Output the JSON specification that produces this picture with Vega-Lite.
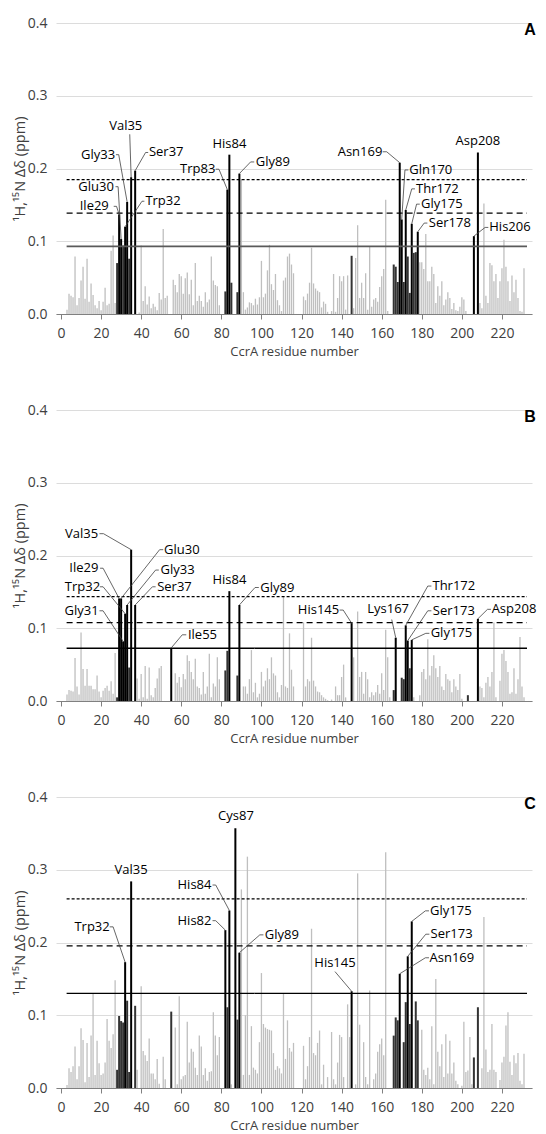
{
"$schema":"https://vega.github.io/schema/vega-lite/v6.json",
"padding":{"top":16,"left":12,"right":0,"bottom":0},
"background":"white",
"bounds":"flush",
"spacing":96,
"config":{"font":"Open Sans","view":{"stroke":null},"axis":{"labelFont":"Open Sans","titleFont":"Open Sans"}},
"datasets":{
"A":[{"r":3,"v":0.006,"c":"n"},{"r":4,"v":0.028,"c":"n"},{"r":5,"v":0.025,"c":"n"},{"r":6,"v":0.023,"c":"n"},{"r":7,"v":0.079,"c":"n"},{"r":8,"v":0.012,"c":"n"},{"r":9,"v":0.022,"c":"n"},{"r":10,"v":0.046,"c":"n"},{"r":11,"v":0.065,"c":"n"},{"r":12,"v":0.021,"c":"n"},{"r":13,"v":0.076,"c":"n"},{"r":14,"v":0.017,"c":"n"},{"r":15,"v":0.042,"c":"n"},{"r":16,"v":0.026,"c":"n"},{"r":17,"v":0.012,"c":"n"},{"r":18,"v":0.008,"c":"n"},{"r":19,"v":0.018,"c":"n"},{"r":20,"v":0.005,"c":"n"},{"r":21,"v":0.017,"c":"n"},{"r":22,"v":0.036,"c":"n"},{"r":23,"v":0.012,"c":"n"},{"r":24,"v":0.014,"c":"n"},{"r":25,"v":0.087,"c":"n"},{"r":26,"v":0.108,"c":"n"},{"r":27,"v":0.015,"c":"n"},{"r":28,"v":0.070,"c":"d"},{"r":29,"v":0.137,"c":"k"},{"r":30,"v":0.103,"c":"k"},{"r":31,"v":0.094,"c":"d"},{"r":32,"v":0.120,"c":"k"},{"r":33,"v":0.154,"c":"k"},{"r":34,"v":0.076,"c":"d"},{"r":35,"v":0.188,"c":"k"},{"r":37,"v":0.197,"c":"k"},{"r":39,"v":0.002,"c":"n"},{"r":40,"v":0.094,"c":"n"},{"r":41,"v":0.018,"c":"n"},{"r":42,"v":0.038,"c":"n"},{"r":43,"v":0.013,"c":"n"},{"r":44,"v":0.024,"c":"n"},{"r":45,"v":0.008,"c":"n"},{"r":46,"v":0.014,"c":"n"},{"r":47,"v":0.010,"c":"n"},{"r":48,"v":0.005,"c":"n"},{"r":49,"v":0.029,"c":"n"},{"r":50,"v":0.020,"c":"n"},{"r":51,"v":0.117,"c":"n"},{"r":52,"v":0.022,"c":"n"},{"r":53,"v":0.025,"c":"n"},{"r":56,"v":0.047,"c":"n"},{"r":57,"v":0.040,"c":"n"},{"r":58,"v":0.030,"c":"n"},{"r":59,"v":0.055,"c":"n"},{"r":60,"v":0.052,"c":"n"},{"r":61,"v":0.028,"c":"n"},{"r":62,"v":0.049,"c":"n"},{"r":63,"v":0.057,"c":"n"},{"r":64,"v":0.027,"c":"n"},{"r":65,"v":0.047,"c":"n"},{"r":66,"v":0.012,"c":"n"},{"r":67,"v":0.070,"c":"n"},{"r":68,"v":0.018,"c":"n"},{"r":69,"v":0.025,"c":"n"},{"r":70,"v":0.018,"c":"n"},{"r":71,"v":0.010,"c":"n"},{"r":72,"v":0.030,"c":"n"},{"r":73,"v":0.016,"c":"n"},{"r":74,"v":0.020,"c":"n"},{"r":75,"v":0.079,"c":"n"},{"r":76,"v":0.046,"c":"n"},{"r":77,"v":0.040,"c":"n"},{"r":78,"v":0.038,"c":"n"},{"r":79,"v":0.012,"c":"n"},{"r":82,"v":0.031,"c":"d"},{"r":83,"v":0.171,"c":"k"},{"r":84,"v":0.219,"c":"k"},{"r":85,"v":0.043,"c":"d"},{"r":88,"v":0.030,"c":"d"},{"r":89,"v":0.193,"c":"k"},{"r":90,"v":0.185,"c":"n"},{"r":91,"v":0.030,"c":"n"},{"r":92,"v":0.006,"c":"n"},{"r":93,"v":0.009,"c":"n"},{"r":94,"v":0.016,"c":"n"},{"r":95,"v":0.015,"c":"n"},{"r":96,"v":0.012,"c":"n"},{"r":97,"v":0.021,"c":"n"},{"r":98,"v":0.013,"c":"n"},{"r":99,"v":0.023,"c":"n"},{"r":100,"v":0.073,"c":"n"},{"r":101,"v":0.023,"c":"n"},{"r":102,"v":0.028,"c":"n"},{"r":103,"v":0.060,"c":"n"},{"r":104,"v":0.095,"c":"n"},{"r":105,"v":0.041,"c":"n"},{"r":106,"v":0.033,"c":"n"},{"r":107,"v":0.055,"c":"n"},{"r":108,"v":0.019,"c":"n"},{"r":109,"v":0.012,"c":"n"},{"r":110,"v":0.004,"c":"n"},{"r":111,"v":0.046,"c":"n"},{"r":112,"v":0.050,"c":"n"},{"r":113,"v":0.079,"c":"n"},{"r":114,"v":0.083,"c":"n"},{"r":115,"v":0.068,"c":"n"},{"r":116,"v":0.056,"c":"n"},{"r":121,"v":0.024,"c":"n"},{"r":122,"v":0.019,"c":"n"},{"r":123,"v":0.028,"c":"n"},{"r":124,"v":0.043,"c":"n"},{"r":125,"v":0.091,"c":"n"},{"r":126,"v":0.042,"c":"n"},{"r":127,"v":0.035,"c":"n"},{"r":128,"v":0.032,"c":"n"},{"r":129,"v":0.030,"c":"n"},{"r":130,"v":0.009,"c":"n"},{"r":131,"v":0.017,"c":"n"},{"r":132,"v":0.014,"c":"n"},{"r":133,"v":0.003,"c":"n"},{"r":135,"v":0.004,"c":"n"},{"r":136,"v":0.055,"c":"n"},{"r":137,"v":0.003,"c":"n"},{"r":138,"v":0.022,"c":"n"},{"r":139,"v":0.052,"c":"n"},{"r":140,"v":0.045,"c":"n"},{"r":141,"v":0.052,"c":"n"},{"r":142,"v":0.006,"c":"n"},{"r":143,"v":0.053,"c":"n"},{"r":145,"v":0.080,"c":"d"},{"r":146,"v":0.008,"c":"n"},{"r":147,"v":0.077,"c":"n"},{"r":148,"v":0.122,"c":"n"},{"r":149,"v":0.022,"c":"n"},{"r":150,"v":0.043,"c":"n"},{"r":151,"v":0.022,"c":"n"},{"r":152,"v":0.056,"c":"n"},{"r":153,"v":0.006,"c":"n"},{"r":154,"v":0.092,"c":"n"},{"r":155,"v":0.010,"c":"n"},{"r":156,"v":0.020,"c":"n"},{"r":157,"v":0.022,"c":"n"},{"r":158,"v":0.017,"c":"n"},{"r":159,"v":0.037,"c":"n"},{"r":160,"v":0.052,"c":"n"},{"r":161,"v":0.062,"c":"n"},{"r":162,"v":0.157,"c":"n"},{"r":163,"v":0.004,"c":"n"},{"r":166,"v":0.068,"c":"d"},{"r":167,"v":0.065,"c":"d"},{"r":168,"v":0.044,"c":"d"},{"r":169,"v":0.208,"c":"k"},{"r":170,"v":0.130,"c":"k"},{"r":171,"v":0.044,"c":"d"},{"r":172,"v":0.143,"c":"k"},{"r":173,"v":0.079,"c":"d"},{"r":174,"v":0.029,"c":"d"},{"r":175,"v":0.124,"c":"k"},{"r":176,"v":0.084,"c":"d"},{"r":177,"v":0.085,"c":"d"},{"r":178,"v":0.113,"c":"k"},{"r":179,"v":0.071,"c":"n"},{"r":180,"v":0.071,"c":"n"},{"r":181,"v":0.062,"c":"n"},{"r":182,"v":0.110,"c":"n"},{"r":183,"v":0.045,"c":"n"},{"r":184,"v":0.045,"c":"n"},{"r":185,"v":0.065,"c":"n"},{"r":186,"v":0.055,"c":"n"},{"r":187,"v":0.015,"c":"n"},{"r":188,"v":0.038,"c":"n"},{"r":189,"v":0.025,"c":"n"},{"r":190,"v":0.045,"c":"n"},{"r":191,"v":0.012,"c":"n"},{"r":192,"v":0.020,"c":"n"},{"r":193,"v":0.030,"c":"n"},{"r":194,"v":0.022,"c":"n"},{"r":195,"v":0.007,"c":"n"},{"r":196,"v":0.015,"c":"n"},{"r":197,"v":0.005,"c":"n"},{"r":198,"v":0.004,"c":"n"},{"r":199,"v":0.010,"c":"n"},{"r":200,"v":0.023,"c":"n"},{"r":201,"v":0.020,"c":"n"},{"r":202,"v":0.004,"c":"n"},{"r":206,"v":0.107,"c":"k"},{"r":208,"v":0.222,"c":"k"},{"r":209,"v":0.015,"c":"n"},{"r":210,"v":0.008,"c":"n"},{"r":211,"v":0.152,"c":"n"},{"r":212,"v":0.025,"c":"n"},{"r":213,"v":0.015,"c":"n"},{"r":214,"v":0.070,"c":"n"},{"r":215,"v":0.067,"c":"n"},{"r":216,"v":0.045,"c":"n"},{"r":217,"v":0.055,"c":"n"},{"r":218,"v":0.022,"c":"n"},{"r":219,"v":0.045,"c":"n"},{"r":220,"v":0.063,"c":"n"},{"r":221,"v":0.102,"c":"n"},{"r":222,"v":0.065,"c":"n"},{"r":223,"v":0.045,"c":"n"},{"r":224,"v":0.018,"c":"n"},{"r":225,"v":0.053,"c":"n"},{"r":226,"v":0.030,"c":"n"},{"r":227,"v":0.047,"c":"n"},{"r":228,"v":0.022,"c":"n"},{"r":229,"v":0.004,"c":"n"},{"r":230,"v":0.003,"c":"n"},{"r":231,"v":0.063,"c":"n"}],
"B":[{"r":3,"v":0.009,"c":"n"},{"r":4,"v":0.015,"c":"n"},{"r":5,"v":0.014,"c":"n"},{"r":6,"v":0.013,"c":"n"},{"r":7,"v":0.059,"c":"n"},{"r":8,"v":0.020,"c":"n"},{"r":9,"v":0.009,"c":"n"},{"r":10,"v":0.094,"c":"n"},{"r":11,"v":0.044,"c":"n"},{"r":12,"v":0.021,"c":"n"},{"r":13,"v":0.044,"c":"n"},{"r":14,"v":0.021,"c":"n"},{"r":15,"v":0.021,"c":"n"},{"r":16,"v":0.016,"c":"n"},{"r":17,"v":0.016,"c":"n"},{"r":18,"v":0.035,"c":"n"},{"r":19,"v":0.013,"c":"n"},{"r":20,"v":0.005,"c":"n"},{"r":21,"v":0.014,"c":"n"},{"r":22,"v":0.018,"c":"n"},{"r":23,"v":0.021,"c":"n"},{"r":24,"v":0.014,"c":"n"},{"r":25,"v":0.027,"c":"n"},{"r":26,"v":0.010,"c":"n"},{"r":27,"v":0.066,"c":"n"},{"r":28,"v":0.005,"c":"d"},{"r":29,"v":0.141,"c":"k"},{"r":30,"v":0.141,"c":"k"},{"r":31,"v":0.082,"c":"k"},{"r":32,"v":0.120,"c":"k"},{"r":33,"v":0.132,"c":"k"},{"r":34,"v":0.046,"c":"d"},{"r":35,"v":0.208,"c":"k"},{"r":37,"v":0.132,"c":"k"},{"r":38,"v":0.031,"c":"n"},{"r":39,"v":0.003,"c":"n"},{"r":40,"v":0.037,"c":"n"},{"r":41,"v":0.005,"c":"n"},{"r":42,"v":0.048,"c":"n"},{"r":43,"v":0.003,"c":"n"},{"r":44,"v":0.046,"c":"n"},{"r":45,"v":0.008,"c":"n"},{"r":46,"v":0.005,"c":"n"},{"r":47,"v":0.018,"c":"n"},{"r":48,"v":0.031,"c":"n"},{"r":49,"v":0.045,"c":"n"},{"r":50,"v":0.048,"c":"n"},{"r":55,"v":0.073,"c":"k"},{"r":57,"v":0.038,"c":"n"},{"r":58,"v":0.025,"c":"n"},{"r":59,"v":0.033,"c":"n"},{"r":60,"v":0.019,"c":"n"},{"r":61,"v":0.037,"c":"n"},{"r":62,"v":0.030,"c":"n"},{"r":63,"v":0.063,"c":"n"},{"r":64,"v":0.055,"c":"n"},{"r":65,"v":0.040,"c":"n"},{"r":66,"v":0.030,"c":"n"},{"r":67,"v":0.058,"c":"n"},{"r":68,"v":0.020,"c":"n"},{"r":69,"v":0.018,"c":"n"},{"r":70,"v":0.009,"c":"n"},{"r":71,"v":0.040,"c":"n"},{"r":72,"v":0.010,"c":"n"},{"r":73,"v":0.020,"c":"n"},{"r":74,"v":0.065,"c":"n"},{"r":75,"v":0.005,"c":"n"},{"r":76,"v":0.024,"c":"n"},{"r":77,"v":0.020,"c":"n"},{"r":78,"v":0.060,"c":"n"},{"r":79,"v":0.030,"c":"n"},{"r":82,"v":0.042,"c":"d"},{"r":83,"v":0.069,"c":"d"},{"r":84,"v":0.151,"c":"k"},{"r":88,"v":0.035,"c":"d"},{"r":89,"v":0.132,"c":"k"},{"r":91,"v":0.020,"c":"n"},{"r":92,"v":0.020,"c":"n"},{"r":93,"v":0.010,"c":"n"},{"r":94,"v":0.030,"c":"n"},{"r":95,"v":0.070,"c":"n"},{"r":96,"v":0.012,"c":"n"},{"r":97,"v":0.025,"c":"n"},{"r":98,"v":0.005,"c":"n"},{"r":99,"v":0.010,"c":"n"},{"r":100,"v":0.040,"c":"n"},{"r":101,"v":0.020,"c":"n"},{"r":102,"v":0.028,"c":"n"},{"r":103,"v":0.045,"c":"n"},{"r":104,"v":0.030,"c":"n"},{"r":105,"v":0.060,"c":"n"},{"r":106,"v":0.038,"c":"n"},{"r":107,"v":0.035,"c":"n"},{"r":108,"v":0.012,"c":"n"},{"r":109,"v":0.005,"c":"n"},{"r":110,"v":0.022,"c":"n"},{"r":111,"v":0.144,"c":"n"},{"r":112,"v":0.020,"c":"n"},{"r":113,"v":0.018,"c":"n"},{"r":114,"v":0.093,"c":"n"},{"r":115,"v":0.043,"c":"n"},{"r":116,"v":0.020,"c":"n"},{"r":121,"v":0.108,"c":"n"},{"r":122,"v":0.020,"c":"n"},{"r":123,"v":0.030,"c":"n"},{"r":124,"v":0.027,"c":"n"},{"r":125,"v":0.087,"c":"n"},{"r":126,"v":0.028,"c":"n"},{"r":127,"v":0.020,"c":"n"},{"r":128,"v":0.013,"c":"n"},{"r":129,"v":0.012,"c":"n"},{"r":130,"v":0.008,"c":"n"},{"r":131,"v":0.005,"c":"n"},{"r":132,"v":0.003,"c":"n"},{"r":133,"v":0.001,"c":"n"},{"r":135,"v":0.002,"c":"n"},{"r":137,"v":0.020,"c":"n"},{"r":138,"v":0.008,"c":"n"},{"r":139,"v":0.008,"c":"n"},{"r":140,"v":0.033,"c":"n"},{"r":141,"v":0.050,"c":"n"},{"r":142,"v":0.005,"c":"n"},{"r":145,"v":0.107,"c":"k"},{"r":146,"v":0.060,"c":"n"},{"r":148,"v":0.123,"c":"n"},{"r":149,"v":0.033,"c":"n"},{"r":150,"v":0.040,"c":"n"},{"r":151,"v":0.010,"c":"n"},{"r":152,"v":0.040,"c":"n"},{"r":153,"v":0.030,"c":"n"},{"r":154,"v":0.005,"c":"n"},{"r":155,"v":0.012,"c":"n"},{"r":156,"v":0.008,"c":"n"},{"r":157,"v":0.012,"c":"n"},{"r":158,"v":0.022,"c":"n"},{"r":159,"v":0.010,"c":"n"},{"r":160,"v":0.038,"c":"n"},{"r":161,"v":0.015,"c":"n"},{"r":162,"v":0.098,"c":"n"},{"r":163,"v":0.060,"c":"n"},{"r":164,"v":0.005,"c":"n"},{"r":166,"v":0.015,"c":"d"},{"r":167,"v":0.087,"c":"k"},{"r":170,"v":0.032,"c":"d"},{"r":171,"v":0.030,"c":"d"},{"r":172,"v":0.104,"c":"k"},{"r":173,"v":0.083,"c":"k"},{"r":174,"v":0.045,"c":"d"},{"r":175,"v":0.084,"c":"k"},{"r":176,"v":0.005,"c":"n"},{"r":179,"v":0.008,"c":"n"},{"r":180,"v":0.040,"c":"n"},{"r":181,"v":0.044,"c":"n"},{"r":182,"v":0.030,"c":"n"},{"r":183,"v":0.085,"c":"n"},{"r":184,"v":0.035,"c":"n"},{"r":185,"v":0.048,"c":"n"},{"r":186,"v":0.063,"c":"n"},{"r":187,"v":0.045,"c":"n"},{"r":188,"v":0.033,"c":"n"},{"r":189,"v":0.048,"c":"n"},{"r":190,"v":0.020,"c":"n"},{"r":191,"v":0.015,"c":"n"},{"r":192,"v":0.037,"c":"n"},{"r":193,"v":0.030,"c":"n"},{"r":194,"v":0.028,"c":"n"},{"r":195,"v":0.012,"c":"n"},{"r":196,"v":0.030,"c":"n"},{"r":197,"v":0.020,"c":"n"},{"r":198,"v":0.015,"c":"n"},{"r":199,"v":0.037,"c":"n"},{"r":200,"v":0.003,"c":"n"},{"r":203,"v":0.008,"c":"d"},{"r":208,"v":0.113,"c":"k"},{"r":209,"v":0.020,"c":"n"},{"r":210,"v":0.018,"c":"n"},{"r":211,"v":0.005,"c":"n"},{"r":212,"v":0.025,"c":"n"},{"r":213,"v":0.033,"c":"n"},{"r":214,"v":0.020,"c":"n"},{"r":215,"v":0.040,"c":"n"},{"r":216,"v":0.108,"c":"n"},{"r":217,"v":0.005,"c":"n"},{"r":219,"v":0.028,"c":"n"},{"r":220,"v":0.065,"c":"n"},{"r":221,"v":0.070,"c":"n"},{"r":222,"v":0.055,"c":"n"},{"r":223,"v":0.040,"c":"n"},{"r":224,"v":0.010,"c":"n"},{"r":225,"v":0.012,"c":"n"},{"r":226,"v":0.045,"c":"n"},{"r":227,"v":0.010,"c":"n"},{"r":228,"v":0.030,"c":"n"},{"r":229,"v":0.088,"c":"n"},{"r":230,"v":0.020,"c":"n"},{"r":231,"v":0.005,"c":"n"}],
"C":[{"r":3,"v":0.004,"c":"n"},{"r":4,"v":0.027,"c":"n"},{"r":5,"v":0.022,"c":"n"},{"r":6,"v":0.030,"c":"n"},{"r":7,"v":0.057,"c":"n"},{"r":8,"v":0.012,"c":"n"},{"r":9,"v":0.030,"c":"n"},{"r":10,"v":0.082,"c":"n"},{"r":11,"v":0.066,"c":"n"},{"r":12,"v":0.008,"c":"n"},{"r":13,"v":0.062,"c":"n"},{"r":14,"v":0.015,"c":"n"},{"r":15,"v":0.072,"c":"n"},{"r":16,"v":0.130,"c":"n"},{"r":17,"v":0.018,"c":"n"},{"r":18,"v":0.065,"c":"n"},{"r":19,"v":0.034,"c":"n"},{"r":20,"v":0.018,"c":"n"},{"r":21,"v":0.020,"c":"n"},{"r":22,"v":0.035,"c":"n"},{"r":23,"v":0.095,"c":"n"},{"r":24,"v":0.065,"c":"n"},{"r":25,"v":0.055,"c":"n"},{"r":26,"v":0.074,"c":"n"},{"r":27,"v":0.148,"c":"n"},{"r":28,"v":0.025,"c":"d"},{"r":29,"v":0.099,"c":"d"},{"r":30,"v":0.092,"c":"d"},{"r":31,"v":0.090,"c":"d"},{"r":32,"v":0.173,"c":"k"},{"r":33,"v":0.120,"c":"d"},{"r":34,"v":0.022,"c":"d"},{"r":35,"v":0.284,"c":"k"},{"r":37,"v":0.113,"c":"d"},{"r":38,"v":0.025,"c":"n"},{"r":40,"v":0.140,"c":"n"},{"r":41,"v":0.051,"c":"n"},{"r":42,"v":0.045,"c":"n"},{"r":43,"v":0.037,"c":"n"},{"r":44,"v":0.068,"c":"n"},{"r":45,"v":0.020,"c":"n"},{"r":46,"v":0.020,"c":"n"},{"r":47,"v":0.012,"c":"n"},{"r":48,"v":0.040,"c":"n"},{"r":49,"v":0.006,"c":"n"},{"r":51,"v":0.043,"c":"n"},{"r":52,"v":0.012,"c":"n"},{"r":55,"v":0.105,"c":"d"},{"r":57,"v":0.083,"c":"n"},{"r":58,"v":0.005,"c":"n"},{"r":59,"v":0.126,"c":"n"},{"r":60,"v":0.012,"c":"n"},{"r":61,"v":0.016,"c":"n"},{"r":62,"v":0.018,"c":"n"},{"r":63,"v":0.091,"c":"n"},{"r":64,"v":0.035,"c":"n"},{"r":65,"v":0.054,"c":"n"},{"r":66,"v":0.050,"c":"n"},{"r":67,"v":0.028,"c":"n"},{"r":68,"v":0.018,"c":"n"},{"r":69,"v":0.072,"c":"n"},{"r":70,"v":0.057,"c":"n"},{"r":71,"v":0.018,"c":"n"},{"r":72,"v":0.027,"c":"n"},{"r":73,"v":0.010,"c":"n"},{"r":74,"v":0.022,"c":"n"},{"r":75,"v":0.023,"c":"n"},{"r":76,"v":0.104,"c":"n"},{"r":77,"v":0.072,"c":"n"},{"r":78,"v":0.045,"c":"n"},{"r":79,"v":0.070,"c":"n"},{"r":82,"v":0.217,"c":"k"},{"r":83,"v":0.111,"c":"d"},{"r":84,"v":0.244,"c":"k"},{"r":85,"v":0.005,"c":"n"},{"r":87,"v":0.357,"c":"k"},{"r":88,"v":0.094,"c":"d"},{"r":89,"v":0.186,"c":"k"},{"r":90,"v":0.273,"c":"n"},{"r":91,"v":0.018,"c":"n"},{"r":92,"v":0.100,"c":"n"},{"r":93,"v":0.318,"c":"n"},{"r":94,"v":0.018,"c":"n"},{"r":95,"v":0.085,"c":"n"},{"r":96,"v":0.028,"c":"n"},{"r":97,"v":0.025,"c":"n"},{"r":98,"v":0.020,"c":"n"},{"r":99,"v":0.063,"c":"n"},{"r":100,"v":0.158,"c":"n"},{"r":101,"v":0.088,"c":"n"},{"r":102,"v":0.083,"c":"n"},{"r":103,"v":0.081,"c":"n"},{"r":104,"v":0.080,"c":"n"},{"r":105,"v":0.079,"c":"n"},{"r":106,"v":0.048,"c":"n"},{"r":107,"v":0.025,"c":"n"},{"r":108,"v":0.030,"c":"n"},{"r":109,"v":0.027,"c":"n"},{"r":110,"v":0.020,"c":"n"},{"r":111,"v":0.130,"c":"n"},{"r":112,"v":0.040,"c":"n"},{"r":113,"v":0.093,"c":"n"},{"r":114,"v":0.055,"c":"n"},{"r":115,"v":0.050,"c":"n"},{"r":116,"v":0.062,"c":"n"},{"r":121,"v":0.058,"c":"n"},{"r":122,"v":0.012,"c":"n"},{"r":123,"v":0.030,"c":"n"},{"r":124,"v":0.070,"c":"n"},{"r":125,"v":0.219,"c":"n"},{"r":126,"v":0.048,"c":"n"},{"r":127,"v":0.045,"c":"n"},{"r":128,"v":0.062,"c":"n"},{"r":129,"v":0.079,"c":"n"},{"r":130,"v":0.005,"c":"n"},{"r":131,"v":0.032,"c":"n"},{"r":133,"v":0.015,"c":"n"},{"r":135,"v":0.077,"c":"n"},{"r":136,"v":0.012,"c":"n"},{"r":137,"v":0.005,"c":"n"},{"r":138,"v":0.035,"c":"n"},{"r":139,"v":0.073,"c":"n"},{"r":140,"v":0.070,"c":"n"},{"r":141,"v":0.015,"c":"n"},{"r":143,"v":0.115,"c":"n"},{"r":144,"v":0.070,"c":"n"},{"r":145,"v":0.133,"c":"k"},{"r":147,"v":0.005,"c":"n"},{"r":148,"v":0.295,"c":"n"},{"r":149,"v":0.087,"c":"n"},{"r":151,"v":0.063,"c":"n"},{"r":152,"v":0.015,"c":"n"},{"r":153,"v":0.005,"c":"n"},{"r":154,"v":0.134,"c":"n"},{"r":156,"v":0.012,"c":"n"},{"r":157,"v":0.020,"c":"n"},{"r":158,"v":0.050,"c":"n"},{"r":159,"v":0.060,"c":"n"},{"r":160,"v":0.068,"c":"n"},{"r":161,"v":0.045,"c":"n"},{"r":162,"v":0.324,"c":"n"},{"r":166,"v":0.072,"c":"d"},{"r":167,"v":0.097,"c":"d"},{"r":168,"v":0.093,"c":"d"},{"r":169,"v":0.157,"c":"k"},{"r":171,"v":0.063,"c":"d"},{"r":172,"v":0.118,"c":"d"},{"r":173,"v":0.181,"c":"k"},{"r":174,"v":0.088,"c":"d"},{"r":175,"v":0.229,"c":"k"},{"r":177,"v":0.119,"c":"d"},{"r":178,"v":0.093,"c":"d"},{"r":180,"v":0.080,"c":"n"},{"r":181,"v":0.025,"c":"n"},{"r":182,"v":0.018,"c":"n"},{"r":183,"v":0.028,"c":"n"},{"r":184,"v":0.012,"c":"n"},{"r":185,"v":0.085,"c":"n"},{"r":186,"v":0.005,"c":"n"},{"r":187,"v":0.150,"c":"n"},{"r":188,"v":0.050,"c":"n"},{"r":189,"v":0.030,"c":"n"},{"r":190,"v":0.060,"c":"n"},{"r":191,"v":0.015,"c":"n"},{"r":192,"v":0.074,"c":"n"},{"r":193,"v":0.020,"c":"n"},{"r":194,"v":0.065,"c":"n"},{"r":195,"v":0.020,"c":"n"},{"r":196,"v":0.035,"c":"n"},{"r":197,"v":0.010,"c":"n"},{"r":198,"v":0.005,"c":"n"},{"r":200,"v":0.003,"c":"n"},{"r":201,"v":0.091,"c":"n"},{"r":202,"v":0.022,"c":"n"},{"r":203,"v":0.024,"c":"n"},{"r":204,"v":0.070,"c":"n"},{"r":205,"v":0.005,"c":"n"},{"r":206,"v":0.042,"c":"d"},{"r":208,"v":0.111,"c":"d"},{"r":210,"v":0.027,"c":"n"},{"r":211,"v":0.235,"c":"n"},{"r":212,"v":0.053,"c":"n"},{"r":213,"v":0.022,"c":"n"},{"r":214,"v":0.025,"c":"n"},{"r":215,"v":0.088,"c":"n"},{"r":216,"v":0.025,"c":"n"},{"r":217,"v":0.022,"c":"n"},{"r":219,"v":0.011,"c":"n"},{"r":220,"v":0.035,"c":"n"},{"r":221,"v":0.043,"c":"n"},{"r":222,"v":0.086,"c":"n"},{"r":223,"v":0.104,"c":"n"},{"r":224,"v":0.036,"c":"n"},{"r":225,"v":0.018,"c":"n"},{"r":226,"v":0.045,"c":"n"},{"r":227,"v":0.034,"c":"n"},{"r":228,"v":0.048,"c":"n"},{"r":229,"v":0.010,"c":"n"},{"r":230,"v":0.005,"c":"n"},{"r":231,"v":0.047,"c":"n"}],
"LA":[{"t":"Val35","tx":32.3,"ty":0.258,"x0":34.3,"y0":0.247,"x1":34.3,"y1":0.247,"x2":35,"y2":0.188,"l":1},{"t":"Gly33","tx":18.5,"ty":0.219,"x0":27.4,"y0":0.219,"x1":28.8,"y1":0.219,"x2":33,"y2":0.154,"l":1},{"t":"Ser37","tx":52.5,"ty":0.222,"x0":43.5,"y0":0.222,"x1":42.2,"y1":0.222,"x2":37,"y2":0.197,"l":1},{"t":"Glu30","tx":17.5,"ty":0.175,"x0":27.2,"y0":0.175,"x1":28.5,"y1":0.175,"x2":30,"y2":0.103,"l":1},{"t":"Ile29","tx":16.6,"ty":0.148,"x0":26.3,"y0":0.148,"x1":27.7,"y1":0.148,"x2":29,"y2":0.137,"l":1},{"t":"Trp32","tx":50.9,"ty":0.155,"x0":41.6,"y0":0.155,"x1":40.4,"y1":0.155,"x2":32,"y2":0.12,"l":1},{"t":"His84","tx":84,"ty":0.234,"l":0},{"t":"Trp83","tx":68.2,"ty":0.199,"x0":77.2,"y0":0.199,"x1":78.8,"y1":0.199,"x2":83,"y2":0.171,"l":1},{"t":"Gly89","tx":105.7,"ty":0.209,"x0":96.4,"y0":0.209,"x1":94.6,"y1":0.209,"x2":89,"y2":0.193,"l":1},{"t":"Asn169","tx":149.2,"ty":0.223,"x0":160.5,"y0":0.223,"x1":162.5,"y1":0.223,"x2":169,"y2":0.208,"l":1},{"t":"Gln170","tx":184.5,"ty":0.198,"x0":173.3,"y0":0.198,"x1":171.6,"y1":0.198,"x2":170,"y2":0.13,"l":1},{"t":"Thr172","tx":187.8,"ty":0.172,"x0":176.6,"y0":0.172,"x1":175,"y1":0.172,"x2":172,"y2":0.143,"l":1},{"t":"Gly175","tx":190,"ty":0.151,"x0":179,"y0":0.151,"x1":177.4,"y1":0.151,"x2":175,"y2":0.124,"l":1},{"t":"Ser178","tx":194,"ty":0.125,"x0":182.8,"y0":0.125,"x1":181.2,"y1":0.125,"x2":178,"y2":0.113,"l":1},{"t":"Asp208","tx":208,"ty":0.238,"l":0},{"t":"His206","tx":224,"ty":0.119,"x0":213.2,"y0":0.119,"x1":211.6,"y1":0.119,"x2":206,"y2":0.107,"l":1}],
"LB":[{"t":"Val35","tx":10.3,"ty":0.23,"x0":19.2,"y0":0.23,"x1":21.2,"y1":0.23,"x2":35,"y2":0.208,"l":1},{"t":"Ile29","tx":11.4,"ty":0.1825,"x0":19.5,"y0":0.1825,"x1":21,"y1":0.1825,"x2":29,"y2":0.141,"l":1},{"t":"Trp32","tx":10.7,"ty":0.157,"x0":19.4,"y0":0.157,"x1":21,"y1":0.157,"x2":32,"y2":0.12,"l":1},{"t":"Gly31","tx":10.3,"ty":0.124,"x0":19.2,"y0":0.124,"x1":21,"y1":0.124,"x2":31,"y2":0.082,"l":1},{"t":"Glu30","tx":60.3,"ty":0.208,"x0":51,"y0":0.208,"x1":49.2,"y1":0.208,"x2":30,"y2":0.141,"l":1},{"t":"Gly33","tx":58.2,"ty":0.18,"x0":48.8,"y0":0.18,"x1":47.2,"y1":0.18,"x2":33,"y2":0.132,"l":1},{"t":"Ser37","tx":56.6,"ty":0.157,"x0":47.2,"y0":0.157,"x1":45.6,"y1":0.157,"x2":37,"y2":0.132,"l":1},{"t":"Ile55","tx":70.6,"ty":0.091,"x0":62.5,"y0":0.091,"x1":60.5,"y1":0.091,"x2":55,"y2":0.073,"l":1},{"t":"His84","tx":84,"ty":0.167,"l":0},{"t":"Gly89","tx":107.9,"ty":0.156,"x0":98.7,"y0":0.156,"x1":96.8,"y1":0.156,"x2":89,"y2":0.132,"l":1},{"t":"His145","tx":128.5,"ty":0.125,"x0":139,"y0":0.125,"x1":140.8,"y1":0.125,"x2":145,"y2":0.107,"l":1},{"t":"Lys167","tx":163.2,"ty":0.126,"x0":165,"y0":0.112,"x1":165,"y1":0.112,"x2":167,"y2":0.087,"l":1},{"t":"Thr172","tx":196,"ty":0.158,"x0":184.8,"y0":0.158,"x1":183,"y1":0.158,"x2":172,"y2":0.104,"l":1},{"t":"Ser173","tx":196,"ty":0.124,"x0":184.8,"y0":0.124,"x1":183,"y1":0.124,"x2":173,"y2":0.083,"l":1},{"t":"Gly175","tx":194.8,"ty":0.093,"x0":183.8,"y0":0.093,"x1":182,"y1":0.093,"x2":175,"y2":0.084,"l":1},{"t":"Asp208","tx":226,"ty":0.126,"x0":214.5,"y0":0.126,"x1":212.8,"y1":0.126,"x2":208,"y2":0.113,"l":1}],
"LC":[{"t":"Val35","tx":35,"ty":0.299,"l":0},{"t":"Trp32","tx":15.5,"ty":0.2215,"x0":24.3,"y0":0.2215,"x1":26,"y1":0.2215,"x2":32,"y2":0.173,"l":1},{"t":"His84","tx":66.6,"ty":0.279,"x0":75.6,"y0":0.279,"x1":77.2,"y1":0.279,"x2":84,"y2":0.244,"l":1},{"t":"His82","tx":66.6,"ty":0.23,"x0":75.6,"y0":0.23,"x1":77.2,"y1":0.23,"x2":82,"y2":0.217,"l":1},{"t":"Cys87","tx":87.3,"ty":0.374,"l":0},{"t":"Gly89","tx":110.2,"ty":0.2105,"x0":101,"y0":0.2105,"x1":99.2,"y1":0.2105,"x2":89,"y2":0.186,"l":1},{"t":"His145","tx":136.7,"ty":0.172,"x0":136.7,"y0":0.16,"x1":136.7,"y1":0.16,"x2":145,"y2":0.133,"l":1},{"t":"Gly175","tx":194.5,"ty":0.2435,"x0":183.6,"y0":0.2435,"x1":181.8,"y1":0.2435,"x2":175,"y2":0.229,"l":1},{"t":"Ser173","tx":194.9,"ty":0.2114,"x0":183.8,"y0":0.2114,"x1":182,"y1":0.2114,"x2":173,"y2":0.181,"l":1},{"t":"Asn169","tx":195,"ty":0.179,"x0":183.6,"y0":0.179,"x1":181.8,"y1":0.179,"x2":169,"y2":0.157,"l":1}]
},
"vconcat":[
{"width":476,"height":291,"layer":[
{"data":{"name":"A"},"transform":[{"filter":"datum.c=='n'"}],"mark":{"type":"bar","size":1.3,"color":"#bfbfbf"},"encoding":{"x":{"field":"r","type":"quantitative","scale":{"domain":[0,232.5],"nice":false,"zero":false},"axis":{"title":"CcrA residue number","values":[0,10,20,30,40,50,60,70,80,90,100,110,120,130,140,150,160,170,180,190,200,210,220,230],"labelExpr":"datum.value % 20 === 0 ? datum.label : ''","grid":false,"domainColor":"#808080","tickColor":"#808080","tickSize":5,"labelFontSize":14,"labelColor":"#404040","labelPadding":7,"labelFlush":false,"titleFontSize":13,"titleFontWeight":"normal","titleColor":"#404040","titlePadding":5}},"y":{"field":"v","type":"quantitative","scale":{"domain":[0,0.4],"nice":false},"axis":{"title":"¹H,¹⁵N Δδ (ppm)","values":[0,0.1,0.2,0.3,0.4],"format":".1f","grid":true,"gridColor":"#dcdcdc","domain":false,"ticks":false,"labelFontSize":14,"labelColor":"#404040","labelPadding":9,"titleFontSize":14.5,"titleFontWeight":"normal","titleColor":"#404040","titlePadding":0}}}},
{"data":{"name":"A"},"transform":[{"filter":"datum.c!='n'"}],"mark":{"type":"bar","size":2},"encoding":{"x":{"field":"r","type":"quantitative","scale":{"domain":[0,232.5],"nice":false,"zero":false}},"y":{"field":"v","type":"quantitative","scale":{"domain":[0,0.4],"nice":false}},"color":{"condition":{"test":"datum.c=='k'","value":"#000000"},"value":"#333333"}}},
{"data":{"values":[{"v":0.093,"s":"solid"},{"v":0.1387,"s":"dash"},{"v":0.1846,"s":"dot"}]},"mark":{"type":"rule"},"encoding":{"x":{"datum":2.8,"type":"quantitative","scale":{"domain":[0,232.5],"nice":false,"zero":false}},"x2":{"datum":232.5},"y":{"field":"v","type":"quantitative","scale":{"domain":[0,0.4],"nice":false}},"strokeDash":{"field":"s","type":"nominal","scale":{"domain":["solid","dash","dot"],"range":[[1,0],[6,4],[3,2]]},"legend":null},"color":{"condition":{"test":"datum.s=='solid'","value":"#5a5a5a"},"value":"#000000"},"strokeWidth":{"condition":{"test":"datum.s=='solid'","value":1.8},"value":1.3}}},
{"data":{"name":"LA"},"transform":[{"filter":"datum.l==1"}],"mark":{"type":"rule","color":"#404040","strokeWidth":0.8},"encoding":{"x":{"field":"x0","type":"quantitative","scale":{"domain":[0,232.5],"nice":false,"zero":false}},"y":{"field":"y0","type":"quantitative","scale":{"domain":[0,0.4],"nice":false}},"x2":{"field":"x1"},"y2":{"field":"y1"}}},
{"data":{"name":"LA"},"transform":[{"filter":"datum.l==1"}],"mark":{"type":"rule","color":"#404040","strokeWidth":0.8},"encoding":{"x":{"field":"x1","type":"quantitative","scale":{"domain":[0,232.5],"nice":false,"zero":false}},"y":{"field":"y1","type":"quantitative","scale":{"domain":[0,0.4],"nice":false}},"x2":{"field":"x2"},"y2":{"field":"y2"}}},
{"data":{"name":"LA"},"mark":{"type":"text","fontSize":13,"color":"#000000"},"encoding":{"x":{"field":"tx","type":"quantitative","scale":{"domain":[0,232.5],"nice":false,"zero":false}},"y":{"field":"ty","type":"quantitative","scale":{"domain":[0,0.4],"nice":false}},"text":{"field":"t"}}},
{"data":{"values":[{}]},"mark":{"type":"text","text":"A","fontSize":16,"fontWeight":"bold","font":"Liberation Sans"},"encoding":{"x":{"datum":234,"type":"quantitative","scale":{"domain":[0,232.5],"nice":false,"zero":false}},"y":{"datum":0.39,"type":"quantitative","scale":{"domain":[0,0.4],"nice":false}}}}
]},
{"width":476,"height":291,"layer":[
{"data":{"name":"B"},"transform":[{"filter":"datum.c=='n'"}],"mark":{"type":"bar","size":1.3,"color":"#bfbfbf"},"encoding":{"x":{"field":"r","type":"quantitative","scale":{"domain":[0,232.5],"nice":false,"zero":false},"axis":{"title":"CcrA residue number","values":[0,10,20,30,40,50,60,70,80,90,100,110,120,130,140,150,160,170,180,190,200,210,220,230],"labelExpr":"datum.value % 20 === 0 ? datum.label : ''","grid":false,"domainColor":"#808080","tickColor":"#808080","tickSize":5,"labelFontSize":14,"labelColor":"#404040","labelPadding":7,"labelFlush":false,"titleFontSize":13,"titleFontWeight":"normal","titleColor":"#404040","titlePadding":5}},"y":{"field":"v","type":"quantitative","scale":{"domain":[0,0.4],"nice":false},"axis":{"title":"¹H,¹⁵N Δδ (ppm)","values":[0,0.1,0.2,0.3,0.4],"format":".1f","grid":true,"gridColor":"#dcdcdc","domain":false,"ticks":false,"labelFontSize":14,"labelColor":"#404040","labelPadding":9,"titleFontSize":14.5,"titleFontWeight":"normal","titleColor":"#404040","titlePadding":0}}}},
{"data":{"name":"B"},"transform":[{"filter":"datum.c!='n'"}],"mark":{"type":"bar","size":2},"encoding":{"x":{"field":"r","type":"quantitative","scale":{"domain":[0,232.5],"nice":false,"zero":false}},"y":{"field":"v","type":"quantitative","scale":{"domain":[0,0.4],"nice":false}},"color":{"condition":{"test":"datum.c=='k'","value":"#000000"},"value":"#333333"}}},
{"data":{"values":[{"v":0.0725,"s":"solid"},{"v":0.1077,"s":"dash"},{"v":0.1435,"s":"dot"}]},"mark":{"type":"rule","strokeWidth":1.3,"color":"#000000"},"encoding":{"x":{"datum":2.8,"type":"quantitative","scale":{"domain":[0,232.5],"nice":false,"zero":false}},"x2":{"datum":232.5},"y":{"field":"v","type":"quantitative","scale":{"domain":[0,0.4],"nice":false}},"strokeDash":{"field":"s","type":"nominal","scale":{"domain":["solid","dash","dot"],"range":[[1,0],[6,4],[3,2]]},"legend":null}}},
{"data":{"name":"LB"},"transform":[{"filter":"datum.l==1"}],"mark":{"type":"rule","color":"#404040","strokeWidth":0.8},"encoding":{"x":{"field":"x0","type":"quantitative","scale":{"domain":[0,232.5],"nice":false,"zero":false}},"y":{"field":"y0","type":"quantitative","scale":{"domain":[0,0.4],"nice":false}},"x2":{"field":"x1"},"y2":{"field":"y1"}}},
{"data":{"name":"LB"},"transform":[{"filter":"datum.l==1"}],"mark":{"type":"rule","color":"#404040","strokeWidth":0.8},"encoding":{"x":{"field":"x1","type":"quantitative","scale":{"domain":[0,232.5],"nice":false,"zero":false}},"y":{"field":"y1","type":"quantitative","scale":{"domain":[0,0.4],"nice":false}},"x2":{"field":"x2"},"y2":{"field":"y2"}}},
{"data":{"name":"LB"},"mark":{"type":"text","fontSize":13,"color":"#000000"},"encoding":{"x":{"field":"tx","type":"quantitative","scale":{"domain":[0,232.5],"nice":false,"zero":false}},"y":{"field":"ty","type":"quantitative","scale":{"domain":[0,0.4],"nice":false}},"text":{"field":"t"}}},
{"data":{"values":[{}]},"mark":{"type":"text","text":"B","fontSize":16,"fontWeight":"bold","font":"Liberation Sans"},"encoding":{"x":{"datum":234,"type":"quantitative","scale":{"domain":[0,232.5],"nice":false,"zero":false}},"y":{"datum":0.39,"type":"quantitative","scale":{"domain":[0,0.4],"nice":false}}}}
]},
{"width":476,"height":291,"layer":[
{"data":{"name":"C"},"transform":[{"filter":"datum.c=='n'"}],"mark":{"type":"bar","size":1.3,"color":"#bfbfbf"},"encoding":{"x":{"field":"r","type":"quantitative","scale":{"domain":[0,232.5],"nice":false,"zero":false},"axis":{"title":"CcrA residue number","values":[0,10,20,30,40,50,60,70,80,90,100,110,120,130,140,150,160,170,180,190,200,210,220,230],"labelExpr":"datum.value % 20 === 0 ? datum.label : ''","grid":false,"domainColor":"#808080","tickColor":"#808080","tickSize":5,"labelFontSize":14,"labelColor":"#404040","labelPadding":7,"labelFlush":false,"titleFontSize":13,"titleFontWeight":"normal","titleColor":"#404040","titlePadding":5}},"y":{"field":"v","type":"quantitative","scale":{"domain":[0,0.4],"nice":false},"axis":{"title":"¹H,¹⁵N Δδ (ppm)","values":[0,0.1,0.2,0.3,0.4],"format":".1f","grid":true,"gridColor":"#dcdcdc","domain":false,"ticks":false,"labelFontSize":14,"labelColor":"#404040","labelPadding":9,"titleFontSize":14.5,"titleFontWeight":"normal","titleColor":"#404040","titlePadding":0}}}},
{"data":{"name":"C"},"transform":[{"filter":"datum.c!='n'"}],"mark":{"type":"bar","size":2},"encoding":{"x":{"field":"r","type":"quantitative","scale":{"domain":[0,232.5],"nice":false,"zero":false}},"y":{"field":"v","type":"quantitative","scale":{"domain":[0,0.4],"nice":false}},"color":{"condition":{"test":"datum.c=='k'","value":"#000000"},"value":"#333333"}}},
{"data":{"values":[{"v":0.1302,"s":"solid"},{"v":0.1953,"s":"dash"},{"v":0.26,"s":"dot"}]},"mark":{"type":"rule","strokeWidth":1.3,"color":"#000000"},"encoding":{"x":{"datum":2.8,"type":"quantitative","scale":{"domain":[0,232.5],"nice":false,"zero":false}},"x2":{"datum":232.5},"y":{"field":"v","type":"quantitative","scale":{"domain":[0,0.4],"nice":false}},"strokeDash":{"field":"s","type":"nominal","scale":{"domain":["solid","dash","dot"],"range":[[1,0],[6,4],[3,2]]},"legend":null}}},
{"data":{"name":"LC"},"transform":[{"filter":"datum.l==1"}],"mark":{"type":"rule","color":"#404040","strokeWidth":0.8},"encoding":{"x":{"field":"x0","type":"quantitative","scale":{"domain":[0,232.5],"nice":false,"zero":false}},"y":{"field":"y0","type":"quantitative","scale":{"domain":[0,0.4],"nice":false}},"x2":{"field":"x1"},"y2":{"field":"y1"}}},
{"data":{"name":"LC"},"transform":[{"filter":"datum.l==1"}],"mark":{"type":"rule","color":"#404040","strokeWidth":0.8},"encoding":{"x":{"field":"x1","type":"quantitative","scale":{"domain":[0,232.5],"nice":false,"zero":false}},"y":{"field":"y1","type":"quantitative","scale":{"domain":[0,0.4],"nice":false}},"x2":{"field":"x2"},"y2":{"field":"y2"}}},
{"data":{"name":"LC"},"mark":{"type":"text","fontSize":13,"color":"#000000"},"encoding":{"x":{"field":"tx","type":"quantitative","scale":{"domain":[0,232.5],"nice":false,"zero":false}},"y":{"field":"ty","type":"quantitative","scale":{"domain":[0,0.4],"nice":false}},"text":{"field":"t"}}},
{"data":{"values":[{}]},"mark":{"type":"text","text":"C","fontSize":16,"fontWeight":"bold","font":"Liberation Sans"},"encoding":{"x":{"datum":234,"type":"quantitative","scale":{"domain":[0,232.5],"nice":false,"zero":false}},"y":{"datum":0.39,"type":"quantitative","scale":{"domain":[0,0.4],"nice":false}}}}
]}
]
}
